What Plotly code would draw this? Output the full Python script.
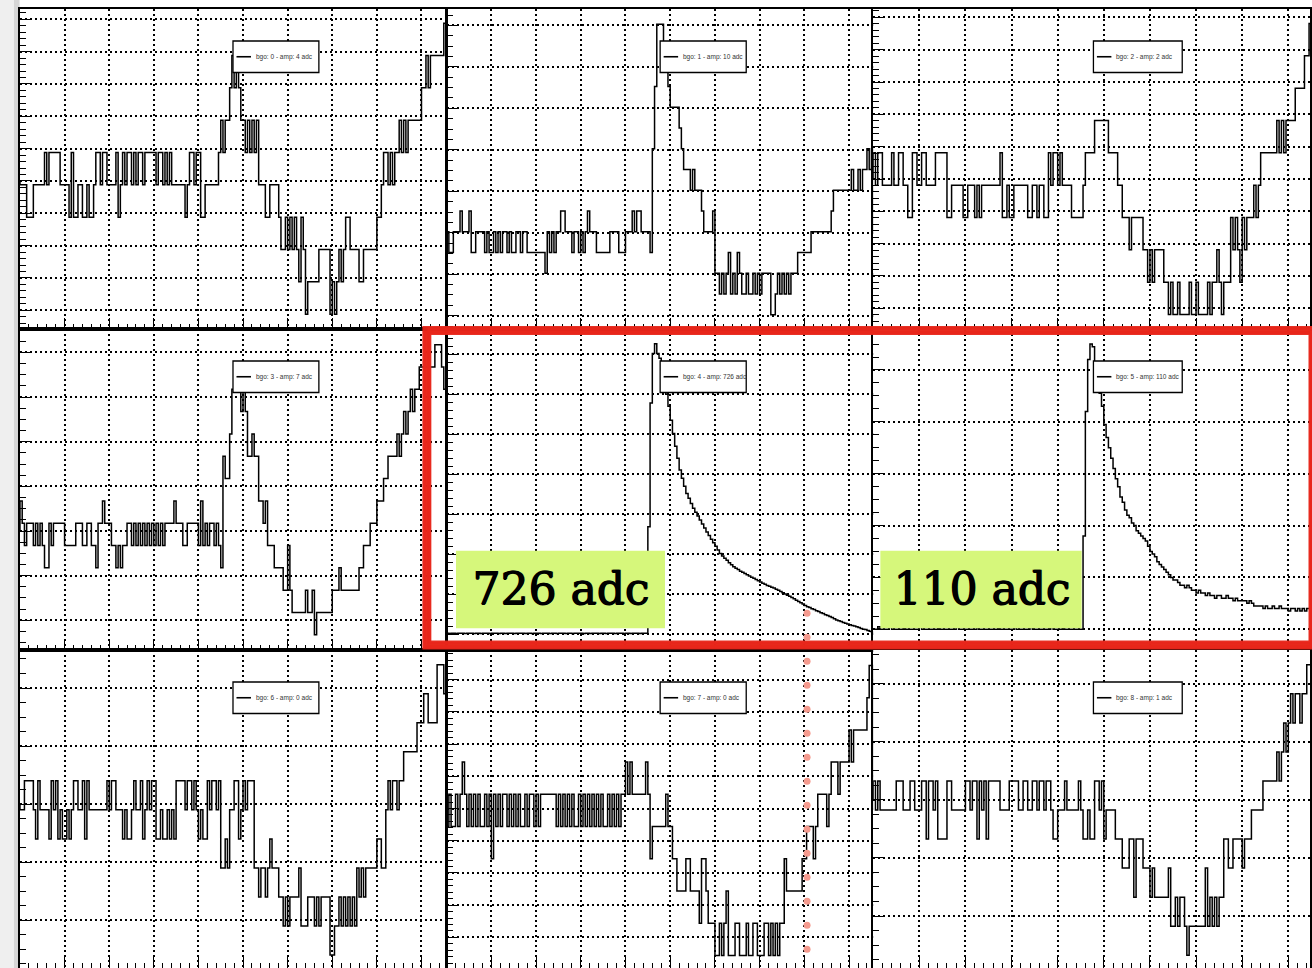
import plotly.graph_objects as go

# Baseline-subtracted ADC samples (integer counts) for the nine BGO channels, 191 samples each.
BGO_0 = [
    0, 0, 0, -1, -1, -1, 0, 0, 0, 0,
    0, 1, 0, 1, 1, 1, 1, 1, 0, 0,
    0, 0, -1, 1, -1, -1, 0, 0, -1, -1,
    0, -1, -1, 0, 1, 1, 0, 1, 1, 0,
    0, 0, 0, 1, -1, 0, 1, 0, 1, 1,
    0, 1, 0, 1, 1, 0, 1, 1, 1, 1,
    1, 0, 1, 1, 0, 1, 0, 1, 0, 0,
    0, 0, 0, 0, -1, 0, 1, 1, 0, 1,
    1, -1, -1, 0, 0, 0, 0, 0, 0, 1,
    2, 1, 2, 2, 3, 4, 3, 4, 3, 2,
    2, 1, 2, 1, 2, 1, 2, 0, 0, 0,
    -1, -1, 0, 0, 0, 0, -1, -2, -2, -1,
    -2, -1, -2, -1, -2, -3, -1, -2, -4, -3,
    -3, -3, -3, -3, -2, -2, -2, -2, -2, -4,
    -3, -4, -3, -2, -3, -2, -1, -1, -2, -2,
    -2, -2, -3, -3, -2, -2, -2, -2, -2, -2,
    -1, -1, 0, 1, 1, 0, 1, 0, 1, 1,
    2, 1, 2, 1, 2, 2, 2, 2, 2, 2,
    3, 3, 4, 3, 4, 4, 4, 4, 4, 4,
    5,
]
BGO_1 = [
    0, -1, -1, 0, 0, 0, 1, 0, 0, 0,
    1, -1, -1, 0, 0, 0, 0, -1, 0, -1,
    -1, 0, -1, 0, -1, 0, 0, -1, 0, -1,
    -1, 0, 0, -1, 0, 0, -1, -1, -1, -1,
    -1, -1, -1, -1, -2, 0, -1, 0, -1, 0,
    0, 1, 1, 0, 0, 0, -1, 0, 0, -1,
    0, -1, 0, 1, 0, 0, 0, -1, -1, -1,
    -1, -1, -1, 0, 0, 0, 0, -1, -1, -1,
    0, 0, 0, 1, 0, 1, 1, 0, 0, 0,
    0, -1, 4, 7, 10, 10, 10, 9, 8, 7,
    6, 6, 6, 6, 5, 4, 3, 3, 3, 2,
    3, 2, 2, 2, 1, 0, 0, 0, 0, 1,
    -2, -2, -3, -2, -3, -2, -1, -3, -2, -3,
    -1, -2, -3, -3, -2, -3, -3, -2, -3, -2,
    -3, -2, -2, -2, -2, -4, -4, -3, -2, -3,
    -2, -3, -2, -3, -2, -2, -2, -1, -1, -1,
    -1, -1, -1, 0, 0, 0, 0, 0, 0, 0,
    0, 0, 1, 2, 2, 2, 2, 2, 2, 2,
    2, 3, 2, 2, 3, 2, 3, 3, 4, 3,
    4,
]
BGO_2 = [
    1, 0, 1, 1, 0, 0, 0, 0, 1, 0,
    0, 1, 1, 0, 0, -1, -1, 1, 1, 0,
    0, 1, 1, 0, 0, 0, 0, 1, 1, 1,
    1, 1, -1, -1, 0, 0, 0, 0, 0, -1,
    -1, 0, 0, 0, -1, 0, -1, 0, 0, 0,
    0, 0, 0, 0, 0, 1, -1, -1, 0, -1,
    -1, 0, 0, 0, 0, 0, 0, -1, -1, 0,
    0, -1, 0, 0, -1, -1, 1, 0, 1, 1,
    0, 1, 0, 0, 0, 0, -1, -1, -1, -1,
    -1, 0, 1, 1, 1, 1, 2, 2, 2, 2,
    2, 2, 1, 1, 1, 1, 0, 0, -1, -1,
    -1, -2, -1, -1, -1, -1, -1, -2, -2, -3,
    -2, -3, -2, -2, -2, -2, -3, -3, -4, -3,
    -4, -4, -3, -4, -4, -4, -4, -3, -4, -4,
    -3, -4, -4, -4, -4, -3, -4, -3, -3, -2,
    -3, -4, -3, -3, -3, -1, -2, -1, -2, -3,
    -1, -2, -1, -1, -1, 0, -1, 0, 1, 1,
    1, 1, 1, 1, 1, 2, 1, 2, 1, 2,
    2, 2, 2, 3, 3, 3, 3, 4, 4, 5,
    5,
]
BGO_3 = [
    1, 0, -1, 0, 0, 0, -1, 0, -1, 0,
    -1, -2, -2, 0, -1, 0, 0, 0, 0, 0,
    -1, -1, -1, -1, -1, 0, 0, 0, -1, -1,
    0, 0, -1, -1, -2, 0, 0, 1, 0, 0,
    0, -1, -1, -2, -1, -2, -1, -1, 0, 0,
    -1, 0, -1, 0, -1, 0, -1, 0, -1, 0,
    -1, 0, -1, 0, -1, 0, 0, 0, 0, 1,
    0, 0, 0, -1, -1, 0, 0, 0, 0, 0,
    -1, 1, -1, 0, -1, 0, 0, -1, 0, -1,
    -2, 3, 2, 2, 4, 6, 6, 6, 6, 5,
    6, 5, 3, 3, 4, 3, 3, 1, 1, 0,
    1, -1, -1, -1, -2, -2, -2, -2, -3, -3,
    -1, -3, -4, -4, -4, -4, -4, -4, -3, -4,
    -4, -3, -5, -4, -4, -4, -4, -4, -4, -4,
    -3, -3, -3, -2, -3, -3, -3, -3, -3, -3,
    -3, -3, -2, -2, -1, -1, -1, 0, 0, 0,
    1, 1, 1, 2, 2, 3, 3, 3, 3, 4,
    3, 4, 5, 4, 5, 6, 5, 6, 6, 7,
    7, 7, 7, 7, 7, 7, 8, 8, 8, 7,
    6,
]
BGO_4 = [
    3, 2, 3, 3, 2, 3, 3, 3, 2, 3,
    3, 3, 2, 3, 3, 2, 3, 3, 3, 2,
    3, 3, 3, 2, 3, 3, 2, 3, 3, 3,
    2, 3, 3, 3, 3, 2, 3, 3, 2, 3,
    3, 3, 2, 3, 3, 3, 2, 3, 3, 2,
    3, 3, 3, 2, 3, 3, 2, 3, 3, 3,
    3, 2, 3, 3, 2, 3, 3, 3, 2, 3,
    3, 2, 3, 3, 3, 2, 3, 3, 3, 2,
    3, 3, 2, 3, 3, 3, 2, 3, 3, 3,
    269, 578, 702, 726, 702, 690, 660, 630, 600, 570,
    535, 502, 470, 440, 411, 390, 370, 352, 340, 327,
    315, 305, 296, 286, 276, 266, 256, 247, 238, 229,
    220, 211, 202, 196, 190, 185, 179, 174, 169, 165,
    162, 158, 155, 152, 149, 146, 143, 140, 137, 134,
    131, 128, 125, 122, 120, 118, 116, 113, 110, 107,
    104, 101, 98, 95, 92, 89, 85, 82, 79, 76,
    72, 69, 67, 64, 62, 59, 57, 54, 52, 49,
    47, 45, 42, 39, 36, 34, 32, 30, 28, 26,
    24, 22, 21, 19, 17, 15, 13, 12, 10, 8,
    6,
]
BGO_5 = [
    0, 0, 1, 0, 0, 0, 0, 1, 0, 0,
    0, 0, 0, 1, 0, 0, 0, 0, 0, 0,
    1, 0, 0, 0, 0, 0, 0, 0, 1, 0,
    0, 0, 0, 0, 0, 0, 1, 0, 0, 0,
    0, 0, 0, 0, 0, 1, 0, 0, 0, 0,
    0, 0, 0, 0, 1, 0, 0, 0, 0, 0,
    0, 1, 0, 0, 0, 0, 0, 0, 1, 0,
    0, 0, 0, 0, 0, 0, 0, 1, 0, 0,
    0, 0, 1, 0, 0, 0, 0, 0, 0, 0,
    0, 36, 84, 104, 110, 109, 102, 96, 91, 86,
    79, 74, 70, 66, 62, 58, 55, 51, 49, 46,
    44, 43, 41, 40, 38, 37, 36, 35, 34, 32,
    30, 29, 28, 26, 25, 24, 23, 22, 21, 20,
    19, 19, 18, 17, 17, 16, 17, 16, 15, 15,
    14, 15, 14, 14, 13, 14, 13, 13, 12, 13,
    13, 12, 12, 13, 12, 12, 11, 12, 11, 11,
    11, 11, 10, 11, 10, 9, 9, 9, 9, 8,
    9, 8, 8, 9, 8, 8, 9, 8, 8, 8,
    7, 8, 8, 7, 8, 7, 8, 7, 8, 8,
    7,
]
BGO_6 = [
    0, 0, 1, 1, 1, 1, 0, -1, 1, 0,
    0, 0, 0, -1, 1, 0, 1, -1, 0, -1,
    -1, 0, -1, 0, 1, 1, 0, 0, 1, -1,
    1, 0, 0, 0, 0, 0, 0, 0, 0, 1,
    0, 1, 1, 0, 0, 0, -1, 0, -1, -1,
    0, 1, 0, 0, 1, -1, 0, 1, 0, 1,
    1, -1, -1, 0, -1, -1, 0, -1, 0, -1,
    1, 1, 1, 1, 0, 1, 1, 0, 1, 0,
    -1, 0, -1, -1, 1, 0, 1, 1, 0, 1,
    -2, -2, -1, -2, 0, 0, 1, 1, -1, 0,
    1, 0, 1, 1, 1, -2, -2, -3, -2, -2,
    -3, -2, -1, -2, -2, -2, -3, -3, -4, -3,
    -4, -3, -3, -3, -3, -2, -4, -4, -4, -3,
    -3, -3, -4, -3, -4, -3, -3, -3, -3, -5,
    -5, -4, -4, -3, -4, -3, -4, -3, -4, -3,
    -4, -2, -3, -2, -3, -2, -2, -2, -2, -2,
    -1, -1, -2, -2, 0, 1, 0, 1, 1, 0,
    1, 1, 2, 2, 2, 2, 2, 2, 3, 3,
    3, 4, 4, 3, 3, 3, 3, 5, 5, 5,
    4,
]
BGO_7 = [
    -1, 0, -1, -1, 0, -1, 0, 1, 0, -1,
    0, -1, 0, -1, 0, -1, -1, 0, -1, 0,
    -2, 0, -1, 0, -1, 0, 0, -1, 0, -1,
    0, -1, 0, -1, -1, 0, -1, 0, 0, -1,
    0, -1, 0, 0, 0, 0, 0, 0, 0, -1,
    0, -1, 0, -1, 0, -1, 0, -1, -1, 0,
    -1, 0, -1, 0, -1, 0, -1, 0, -1, 0,
    -1, -1, 0, -1, 0, -1, 0, -1, 0, 0,
    1, 0, 1, 0, 0, 0, 0, 0, 0, 1,
    0, -2, -1, -1, -1, -1, -1, -1, 0, -1,
    -1, -2, -2, -3, -3, -3, -3, -2, -2, -3,
    -3, -3, -3, -4, -2, -2, -3, -4, -4, -4,
    -5, -5, -4, -5, -4, -3, -5, -5, -5, -4,
    -4, -5, -5, -5, -4, -5, -5, -4, -4, -5,
    -5, -5, -4, -4, -5, -4, -5, -4, -5, -4,
    -4, -2, -3, -3, -3, -3, -3, -3, -3, -2,
    -2, -1, -1, -1, -2, -1, 0, 0, 0, 0,
    -1, 0, 1, 1, 1, 0, 1, 1, 1, 1,
    2, 1, 2, 2, 2, 2, 2, 2, 3, 4,
    4,
]
BGO_8 = [
    1, 0, 1, 0, 0, 0, 0, 0, 0, 0,
    1, 1, 1, 0, 0, 0, 1, 1, 0, 0,
    0, 1, 1, -1, 1, 1, 0, 1, -1, -1,
    -1, -1, 1, 1, 0, 0, 0, 0, 0, 0,
    1, 1, 0, 1, 1, -1, 1, 0, 1, -1,
    1, 1, 1, 1, 1, 0, 0, 0, 0, 1,
    1, 1, 1, 0, 0, 1, 1, 0, 0, 1,
    1, 0, 1, 1, 0, 1, 1, 0, -1, -1,
    0, 0, 0, 1, 0, 0, 0, 0, 0, 1,
    0, -1, -1, 0, -1, -1, 1, 1, 0, 1,
    -1, 0, 0, 0, 0, -1, -1, -1, -2, -2,
    -2, -1, -1, -3, -1, -1, -1, -2, -2, -2,
    -3, -2, -3, -3, -3, -3, -3, -3, -2, -4,
    -4, -3, -4, -3, -3, -4, -5, -4, -4, -4,
    -4, -4, -4, -4, -2, -4, -3, -4, -3, -4,
    -3, -3, -1, -1, -2, -2, -1, -1, -1, -1,
    -2, -1, -1, -1, 0, 0, 0, 0, 0, 1,
    1, 1, 1, 1, 1, 2, 1, 2, 3, 2,
    3, 4, 3, 4, 4, 3, 4, 4, 5, 5,
    5,
]

WAVEFORMS = [BGO_0, BGO_1, BGO_2, BGO_3, BGO_4, BGO_5, BGO_6, BGO_7, BGO_8]
# fractional part of each channel's pedestal, subtracted from the integer samples
PEDESTAL_FRAC = [0.12, -0.05, 0.19, -0.35, 0.0, 0.0, 0.2, -0.44, 0.35]
AMP_ADC = [4, 10, 2, 7, 726, 110, 0, 0, 1]
CALLOUTS = {4: "726 adc", 5: "110 adc"}

# ---- canvas geometry (pixels) ----
W, H = 1312, 968
COL_EDGES = [(20.0, 446.7), (447.3, 875.0), (874.5, 1312.0)]
ROW_EDGES = [(9.0, 329.0), (329.0, 650.0), (650.0, 968.0)]
X_MAX = [191, 191, 189.4]
Y_RANGE = [
    [-4.58, 5.32], [-4.64, 10.79], [-4.64, 5.26],
    [-5.33, 9.05], [-39.0, 763.0], [-8.0, 115.8],
    [-5.65, 5.31], [-4.95, 4.92], [-5.79, 5.16],
]
Y_DTICK = [1, 2, 1, 2, 100, 20, 2, 1, 2]
Y_MINOR = [0.2, 0.5, 0.2, 0.5, 20, 5, 0.5, 0.2, 0.5]


def fx(px):
    return px / W


def fy(py):
    return 1 - py / H


fig = go.Figure()
shapes = []
annotations = []

# light window shadow on the left edge
shapes.append(dict(type="rect", xref="paper", yref="paper", x0=0, x1=fx(19.5), y0=0, y1=1,
                   fillcolor="#efefef", line=dict(width=0), layer="below"))
shapes.append(dict(type="rect", xref="paper", yref="paper", x0=fx(14), x1=fx(19.5), y0=0, y1=1,
                   fillcolor="#d6d6d6", line=dict(width=0), layer="below"))

for i, wf in enumerate(WAVEFORMS):
    r, c = divmod(i, 3)
    sfx = "" if i == 0 else str(i + 1)
    n = len(wf)
    xs = [0] + list(range(n)) + [n]
    ys = [0.0] + [v - PEDESTAL_FRAC[i] for v in wf] + [0.0]
    fig.add_trace(go.Scatter(
        x=xs, y=ys, mode="lines",
        line=dict(color="black", width=1.5, shape="hv"),
        xaxis="x" + sfx, yaxis="y" + sfx,
        showlegend=False, hoverinfo="skip",
    ))

    cl, cr = COL_EDGES[c]
    rt, rb = ROW_EDGES[r]
    common = dict(
        showline=True, mirror=True, linecolor="black", linewidth=2,
        ticks="inside", ticklen=11, tickwidth=1.3, tickcolor="black",
        showgrid=True, gridcolor="black", gridwidth=1.6, griddash="2px,3px",
        zeroline=False, showticklabels=False, fixedrange=True,
    )
    fig.layout["xaxis" + sfx] = dict(
        domain=[fx(cl), fx(cr)], anchor="y" + sfx, range=[0, X_MAX[c]],
        tick0=0, dtick=20,
        minor=dict(dtick=4, ticks="inside", ticklen=5.5, tickwidth=1, tickcolor="black", showgrid=False),
        **common,
    )
    fig.layout["yaxis" + sfx] = dict(
        domain=[fy(rb), fy(rt)], anchor="x" + sfx, range=Y_RANGE[i],
        tick0=0, dtick=Y_DTICK[i],
        minor=dict(dtick=Y_MINOR[i], ticks="inside", ticklen=6, tickwidth=1, tickcolor="black", showgrid=False),
        **common,
    )

    # per-pad legend box
    s = (cr - cl) / X_MAX[c]
    lx0, lx1 = cl + 95.5 * s, cl + 134.0 * s
    ly0, ly1 = rt + 32.0, rt + 63.5
    lym = (ly0 + ly1) / 2
    shapes.append(dict(type="rect", xref="paper", yref="paper",
                       x0=fx(lx0), x1=fx(lx1), y0=fy(ly1), y1=fy(ly0),
                       fillcolor="white", line=dict(color="black", width=1.3)))
    shapes.append(dict(type="line", xref="paper", yref="paper",
                       x0=fx(lx0 + 3.5), x1=fx(lx0 + 18), y0=fy(lym), y1=fy(lym),
                       line=dict(color="black", width=1.6)))
    annotations.append(dict(
        xref="paper", yref="paper", x=fx(lx0 + 21), y=fy(lym),
        xanchor="left", yanchor="middle", showarrow=False,
        text=f"bgo: {i} - amp: {AMP_ADC[i]} adc",
        font=dict(family="Liberation Sans, Arial", size=6.5, color="#333333"),
    ))

# hand-drawn red frame around the two large-signal channels
RED = "rgba(232,38,26,0.95)"
for dx, dy, wdt in [(0, 0, 9), (2.2, -1.8, 3), (-2.0, 2.0, 3), (0.8, 1.0, 2)]:
    shapes.append(dict(type="rect", xref="paper", yref="paper",
                       x0=fx(427.5 + dx), x1=fx(1315 + dx), y0=fy(645 + dy), y1=fy(330.5 + dy),
                       line=dict(color=RED, width=wdt), fillcolor="rgba(0,0,0,0)"))

# amplitude call-out boxes
CALLOUT_BOX = {4: (456.7, 666.0), 5: (881.7, 1083.3)}
for ch, label in CALLOUTS.items():
    bx0, bx1 = CALLOUT_BOX[ch]
    by0, by1 = 550.7, 628.3
    shapes.append(dict(type="rect", xref="paper", yref="paper",
                       x0=fx(bx0), x1=fx(bx1), y0=fy(by1), y1=fy(by0),
                       fillcolor="#d6f77b", line=dict(width=0)))
    annotations.append(dict(
        xref="paper", yref="paper", x=fx((bx0 + bx1) / 2), y=fy((by0 + by1) / 2 - 1),
        xanchor="center", yanchor="middle", showarrow=False, text=label,
        font=dict(family="DejaVu Serif", size=44, color="black",
                  shadow="1.2px 0px 0px #000, 0.6px 0.6px 0px #000"),
    ))

# dotted salmon time marker
for k in range(15):
    cy = 613.3 + 24 * k
    shapes.append(dict(type="circle", xref="paper", yref="paper",
                       x0=fx(808.3 - 3.5), x1=fx(808.3 + 3.5), y0=fy(cy + 3.5), y1=fy(cy - 3.5),
                       fillcolor="#f59a8e", line=dict(width=0)))

fig.update_layout(
    width=W, height=H,
    margin=dict(l=0, r=0, t=0, b=0),
    paper_bgcolor="white", plot_bgcolor="white",
    shapes=shapes, annotations=annotations,
    showlegend=False, hovermode=False,
)

fig.write_html("out.html", config={"displayModeBar": False})
